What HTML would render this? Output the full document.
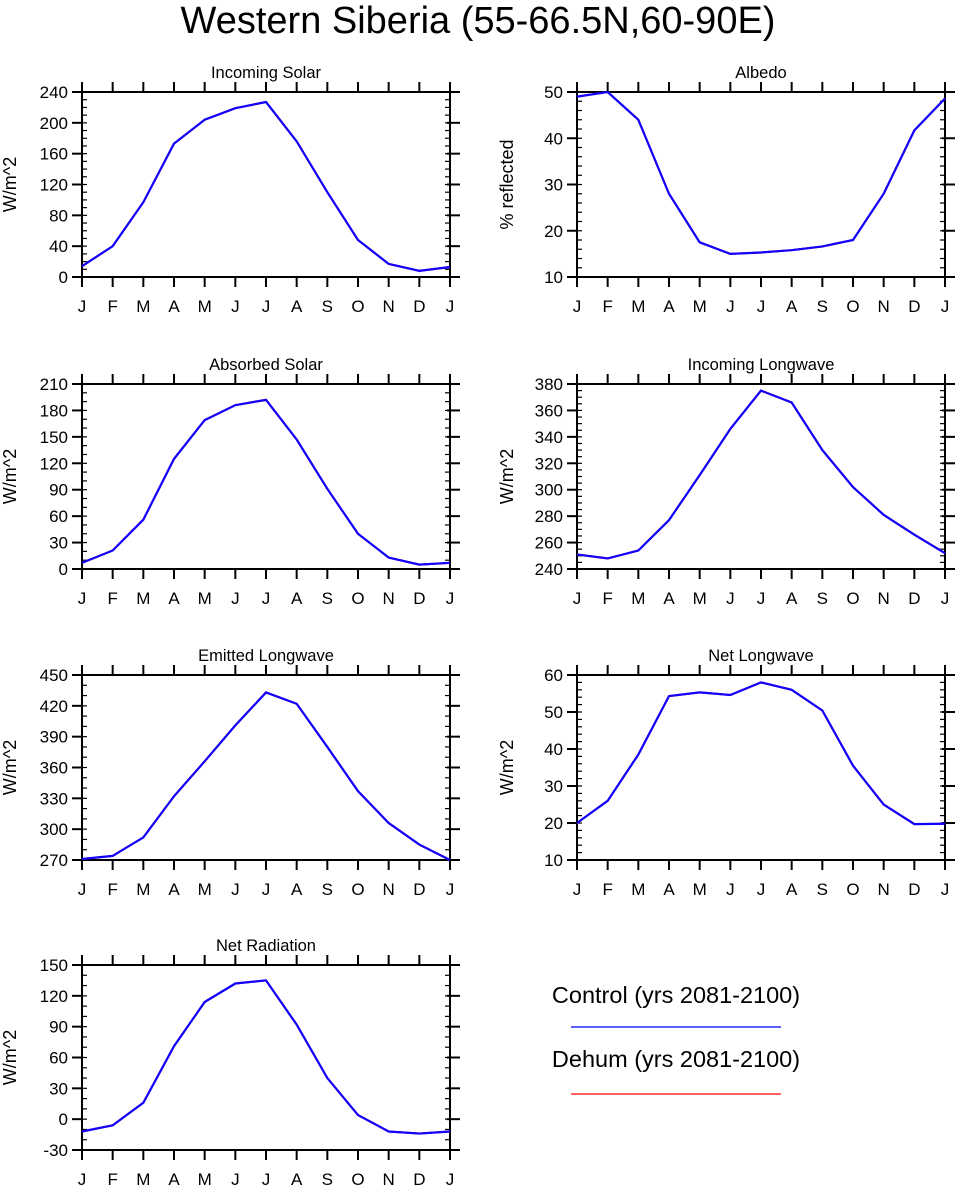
<!DOCTYPE html>
<html><head><meta charset="utf-8"><style>
body{margin:0;background:#fff;width:957px;height:1187px;overflow:hidden}
svg{display:block;font-family:"Liberation Sans",Arial,sans-serif}
</style></head><body>
<svg id="c" width="957" height="1187">
<text x="478" y="33" font-size="38" text-anchor="middle">Western Siberia (55-66.5N,60-90E)</text>
<g>
<text x="676" y="1003" font-size="23.5" text-anchor="middle">Control (yrs 2081-2100)</text>
<line x1="571" x2="781" y1="1027" y2="1027" stroke="#0000ff" stroke-width="1.2"/>
<text x="676" y="1067" font-size="23.5" text-anchor="middle">Dehum (yrs 2081-2100)</text>
<line x1="571" x2="781" y1="1094" y2="1094" stroke="#ff0000" stroke-width="1.2"/>
</g>
</svg>
<script>
const months=["J","F","M","A","M","J","J","A","S","O","N","D","J"];
const incomingSolar=[14,40,97,173,204,219,227,176,110,48,17,8,13];
const albedo=[49,50,44,28,17.5,15,15.3,15.8,16.6,18,28,41.7,48.6];
const absorbedSolar=[7,21,56,125,169,186,192,147,91,40,13,5,7];
const incomingLW=[251,248,254,277,311,346,375,366,330,302,281,266,252];
const emittedLW=[271,274,292,332,366,401,433,422,380,337,306,285,270];
const netLW=[20,26,38.5,54.3,55.3,54.6,58,56,50.4,35.5,25,19.7,19.8];
const netRad=[-12,-6,16,71,114,132,135,92,40,4,-12,-14,-12];
const panels=[
 {t:"Incoming Solar",y:"W/m^2",d:incomingSolar,min:0,max:240,step:40,minor:10,col:0,row:0},
 {t:"Albedo",y:"% reflected",d:albedo,min:10,max:50,step:10,minor:2,col:1,row:0},
 {t:"Absorbed Solar",y:"W/m^2",d:absorbedSolar,min:0,max:210,step:30,minor:10,col:0,row:1},
 {t:"Incoming Longwave",y:"W/m^2",d:incomingLW,min:240,max:380,step:20,minor:5,col:1,row:1},
 {t:"Emitted Longwave",y:"W/m^2",d:emittedLW,min:270,max:450,step:30,minor:10,col:0,row:2},
 {t:"Net Longwave",y:"W/m^2",d:netLW,min:10,max:60,step:10,minor:2,col:1,row:2},
 {t:"Net Radiation",y:"W/m^2",d:netRad,min:-30,max:150,step:30,minor:10,col:0,row:3}
];
const NS="http://www.w3.org/2000/svg",svg=document.getElementById("c");
function el(tag,a,p){const e=document.createElementNS(NS,tag);for(const k in a)e.setAttribute(k,a[k]);(p||svg).appendChild(e);return e;}
const tops=[92,384,675,965];
panels.forEach((p,i)=>{
 const L=p.col?577:82,R=p.col?945:450,T=tops[p.row],B=T+185;
 const g=el("g",{});
 
 
 const xs=k=>L+(R-L)*k/12, ys=v=>B-(B-T)*(v-p.min)/(p.max-p.min);
 const tt=el("text",{x:(L+R)/2,y:T-14,"font-size":16.5,"text-anchor":"middle"},g);tt.textContent=p.t;
 
 
 const yl=el("text",{x:0,y:0,"font-size":18,"text-anchor":"middle",transform:`translate(${L-66+(p.col?2:0)},${(T+B)/2}) rotate(-90)`},g);yl.textContent=p.y;
 
 
 for(let v=p.min;v<=p.max+1e-9;v+=p.minor){const y=ys(v);
  el("line",{x1:L,x2:L+5,y1:y,y2:y,stroke:"#000","stroke-width":1.2},g);
  el("line",{x1:R,x2:R-5,y1:y,y2:y,stroke:"#000","stroke-width":1.2},g);}
 for(let v=p.min;v<=p.max+1e-9;v+=p.step){const y=ys(v);
  el("line",{x1:L-10,x2:L,y1:y,y2:y,stroke:"#000","stroke-width":2},g);
  el("line",{x1:R-3,x2:R+10,y1:y,y2:y,stroke:"#000","stroke-width":2},g);
  const tx=el("text",{x:L-14,y:y+6,"font-size":17,"text-anchor":"end"},g);tx.textContent=v;
  
  }
 months.forEach((m,k)=>{const x=xs(k);
  el("line",{x1:x,x2:x,y1:B,y2:B+10,stroke:"#000","stroke-width":2},g);
  el("line",{x1:x,x2:x,y1:T,y2:T-10,stroke:"#000","stroke-width":2},g);
  const tx=el("text",{x:x,y:B+35,"font-size":17,"text-anchor":"middle"},g);tx.textContent=m;
  
  });
 el("rect",{x:L,y:T,width:R-L,height:B-T,fill:"none",stroke:"#000","stroke-width":2},g);
 const pts=p.d.map((v,k)=>xs(k)+","+ys(v)).join(" ");
 const r=el("polyline",{points:pts,fill:"none",stroke:"#ff0000","stroke-width":2},g);
 
 
 const b=el("polyline",{points:pts,fill:"none",stroke:"#1000ff","stroke-width":2.2},g);
 
 
});
</script>
</body></html>
